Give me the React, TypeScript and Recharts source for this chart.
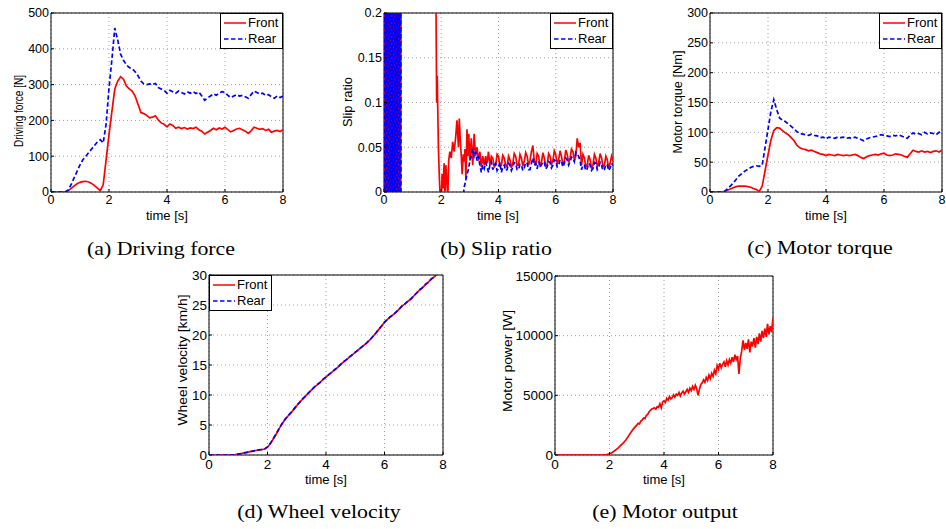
import { LineChart, Line, XAxis, YAxis, CartesianGrid, ReferenceArea } from 'recharts'

const SANS = '"Liberation Sans", Arial, Helvetica, sans-serif'
const SERIF = '"Liberation Serif", "Times New Roman", serif'
const RED = '#ff0000'
const BLUE = '#0000ff'

const X_TICKS = [0, 2, 4, 6, 8]

// sample times [s], 0.1 s steps
const TIME = [
  0, 0.1, 0.2, 0.3, 0.4, 0.5, 0.6, 0.7, 0.8, 0.9,
  1, 1.1, 1.2, 1.3, 1.4, 1.5, 1.6, 1.7, 1.8, 1.9,
  2, 2.1, 2.2, 2.3, 2.4, 2.5, 2.6, 2.7, 2.8, 2.9,
  3, 3.1, 3.2, 3.3, 3.4, 3.5, 3.6, 3.7, 3.8, 3.9,
  4, 4.1, 4.2, 4.3, 4.4, 4.5, 4.6, 4.7, 4.8, 4.9,
  5, 5.1, 5.2, 5.3, 5.4, 5.5, 5.6, 5.7, 5.8, 5.9,
  6, 6.1, 6.2, 6.3, 6.4, 6.5, 6.6, 6.7, 6.8, 6.9,
  7, 7.1, 7.2, 7.3, 7.4, 7.5, 7.6, 7.7, 7.8, 7.9,
  8,
]

// (a) driving force [N]
const FORCE_FRONT = [
  0, 0, 0, 0, 0, 1, 4, 10, 17, 23,
  27, 29, 30, 28, 24, 18, 11, 4, 20, 90,
  160, 225, 288, 310, 322, 315, 296, 288, 282, 268,
  245, 222, 219, 214, 207, 209, 213, 201, 193, 189,
  182, 190, 186, 178, 181, 177, 180, 176, 179, 177,
  181, 174, 170, 162, 167, 172, 178, 174, 179, 176,
  181, 174, 168, 172, 176, 178, 174, 170, 164, 171,
  181, 178, 175, 177, 172, 175, 167, 170, 172, 169,
  174,
]
const FORCE_REAR = [
  0, 0, 0, 0, 0, 0, 6, 22, 40, 58,
  76, 90, 100, 110, 120, 130, 140, 146, 137, 190,
  290, 370, 458, 425, 385, 368, 355, 348, 344, 336,
  325, 310, 302, 300, 302, 300, 303, 292, 288, 284,
  276, 284, 280, 276, 282, 278, 274, 280, 276, 280,
  275, 279, 268, 256, 263, 268, 274, 270, 277, 280,
  278, 270, 264, 268, 272, 268, 270, 266, 262, 272,
  282, 278, 274, 276, 270, 272, 266, 262, 268, 264,
  268,
]

// (b) slip ratio, [time, value]
const SLIP_FRONT: [number, number][] = [
  [0, 0.4], [0.025, -0.2], [0.05, 0.4], [0.075, -0.2], [0.1, 0.4], [0.125, -0.2], [0.15, 0.4],
  [0.175, -0.2], [0.2, 0.4], [0.225, -0.2], [0.25, 0.4], [0.275, -0.2], [0.3, 0.4], [0.325, -0.2],
  [0.35, 0.4], [0.375, -0.2], [0.4, 0.4], [0.425, -0.2], [0.45, 0.4], [0.475, -0.2], [0.5, 0.4],
  [0.525, -0.2], [0.55, 0.4], [0.575, -0.2], [0.6, 0.4],
  [1.0, 0.4], [1.5, 0.4], [1.8, 0.4], [1.82, 0.19], [1.84, 0.1], [1.86, 0.13], [1.88, 0.09],
  [1.9, 0.05], [1.93, 0.02], [1.96, -0.005], [2.0, -0.01], [2.03, 0.02], [2.06, 0.004],
  [2.1, 0.032], [2.13, -0.005], [2.16, 0.03], [2.2, 0.01], [2.23, -0.005], [2.26, 0.035],
  [2.3, 0.045], [2.35, 0.038], [2.4, 0.056], [2.45, 0.045], [2.5, 0.06], [2.55, 0.08],
  [2.6, 0.05], [2.63, 0.082], [2.67, 0.055], [2.7, 0.04], [2.73, 0.02], [2.77, 0.042],
  [2.8, 0.034], [2.83, 0.048], [2.86, 0.015], [2.9, 0.07], [2.93, 0.04], [2.96, 0.065],
  [3.0, 0.035], [3.05, 0.06], [3.1, 0.03], [3.15, 0.065], [3.2, 0.04], [3.25, 0.05],
  [3.3, 0.035], [3.35, 0.045], [3.4, 0.028], [3.45, 0.04], [3.5, 0.03], [3.55, 0.04],
  [3.6, 0.032], [3.65, 0.045], [3.7, 0.03], [3.75, 0.04], [3.8, 0.038], [3.85, 0.028],
  [3.9, 0.03], [3.95, 0.042], [4.0, 0.04], [4.05, 0.029], [4.1, 0.03], [4.15, 0.041],
  [4.2, 0.038], [4.25, 0.03], [4.3, 0.028], [4.35, 0.04], [4.4, 0.036], [4.45, 0.027],
  [4.5, 0.032], [4.55, 0.043], [4.6, 0.04], [4.65, 0.03], [4.7, 0.03], [4.75, 0.042],
  [4.8, 0.038], [4.85, 0.029], [4.9, 0.034], [4.95, 0.044], [5.0, 0.04], [5.05, 0.03],
  [5.1, 0.035], [5.15, 0.045], [5.2, 0.052], [5.25, 0.035], [5.3, 0.03], [5.35, 0.043],
  [5.4, 0.04], [5.45, 0.03], [5.5, 0.033], [5.55, 0.044], [5.6, 0.038], [5.65, 0.029],
  [5.7, 0.03], [5.75, 0.043], [5.8, 0.04], [5.85, 0.031], [5.9, 0.035], [5.95, 0.046],
  [6.0, 0.042], [6.05, 0.032], [6.1, 0.036], [6.15, 0.046], [6.2, 0.04], [6.25, 0.031],
  [6.3, 0.034], [6.35, 0.047], [6.4, 0.042], [6.45, 0.033], [6.5, 0.038], [6.55, 0.048],
  [6.6, 0.045], [6.65, 0.036], [6.7, 0.04], [6.75, 0.06], [6.8, 0.05], [6.85, 0.055],
  [6.9, 0.03], [6.95, 0.042], [7.0, 0.038], [7.05, 0.028], [7.1, 0.03], [7.15, 0.041],
  [7.2, 0.036], [7.25, 0.027], [7.3, 0.03], [7.35, 0.042], [7.4, 0.038], [7.45, 0.029],
  [7.5, 0.033], [7.55, 0.043], [7.6, 0.038], [7.65, 0.028], [7.7, 0.03], [7.75, 0.04],
  [7.8, 0.036], [7.85, 0.027], [7.9, 0.032], [7.95, 0.04], [8.0, 0.035],
]
const SLIP_REAR: [number, number][] = [
  [0, -0.2], [0.025, 0.4], [0.05, -0.2], [0.075, 0.4], [0.1, -0.2], [0.125, 0.4], [0.15, -0.2],
  [0.175, 0.4], [0.2, -0.2], [0.225, 0.4], [0.25, -0.2], [0.275, 0.4], [0.3, -0.2], [0.325, 0.4],
  [0.35, -0.2], [0.375, 0.4], [0.4, -0.2], [0.425, 0.4], [0.45, -0.2], [0.475, 0.4], [0.5, -0.2],
  [0.525, 0.4], [0.55, -0.2], [0.575, 0.4], [0.6, -0.2],
  [1.0, -0.2], [2.0, -0.2], [2.7, -0.2], [2.77, -0.005], [2.8, 0.005], [2.85, 0.012],
  [2.9, 0.02], [2.95, 0.025], [3.0, 0.035], [3.05, 0.04], [3.1, 0.048], [3.15, 0.04],
  [3.2, 0.045], [3.25, 0.035], [3.3, 0.04], [3.35, 0.03], [3.4, 0.022], [3.45, 0.03],
  [3.5, 0.026], [3.55, 0.033], [3.6, 0.028], [3.65, 0.022], [3.7, 0.03], [3.75, 0.034],
  [3.8, 0.025], [3.85, 0.03], [3.9, 0.032], [3.95, 0.024], [4.0, 0.028], [4.05, 0.033],
  [4.1, 0.022], [4.15, 0.028], [4.2, 0.03], [4.25, 0.024], [4.3, 0.025], [4.35, 0.032],
  [4.4, 0.03], [4.45, 0.024], [4.5, 0.028], [4.55, 0.033], [4.6, 0.032], [4.65, 0.025],
  [4.7, 0.025], [4.75, 0.031], [4.8, 0.03], [4.85, 0.024], [4.9, 0.027], [4.95, 0.033],
  [5.0, 0.032], [5.05, 0.025], [5.1, 0.025], [5.15, 0.032], [5.2, 0.038], [5.25, 0.03],
  [5.3, 0.032], [5.35, 0.026], [5.4, 0.034], [5.45, 0.028], [5.5, 0.03], [5.55, 0.034],
  [5.6, 0.033], [5.65, 0.026], [5.7, 0.028], [5.75, 0.034], [5.8, 0.033], [5.85, 0.027],
  [5.9, 0.03], [5.95, 0.036], [6.0, 0.035], [6.05, 0.028], [6.1, 0.03], [6.15, 0.036],
  [6.2, 0.034], [6.25, 0.028], [6.3, 0.032], [6.35, 0.038], [6.4, 0.036], [6.45, 0.03],
  [6.5, 0.034], [6.55, 0.039], [6.6, 0.038], [6.65, 0.034], [6.7, 0.044], [6.75, 0.042],
  [6.8, 0.04], [6.85, 0.035], [6.9, 0.025], [6.95, 0.03], [7.0, 0.03], [7.05, 0.024],
  [7.1, 0.026], [7.15, 0.032], [7.2, 0.03], [7.25, 0.024], [7.3, 0.026], [7.35, 0.033],
  [7.4, 0.032], [7.45, 0.025], [7.5, 0.028], [7.55, 0.033], [7.6, 0.03], [7.65, 0.024],
  [7.7, 0.025], [7.75, 0.031], [7.8, 0.03], [7.85, 0.024], [7.9, 0.027], [7.95, 0.032],
  [8.0, 0.03],
]

// (c) motor torque [Nm]
const TORQUE_FRONT = [
  0, 0, 0, 0, 0, 1, 3, 5, 7, 9,
  10, 10, 10, 9, 8, 6, 4, 1, 10, 36,
  62, 87, 103, 108, 107, 103, 99, 96, 91, 86,
  78, 74, 72, 71, 69, 70, 68, 66, 64, 63,
  61, 63, 62, 61, 63, 62, 61, 62, 61, 62,
  63, 61, 58, 56, 59, 61, 62, 63, 62, 64,
  65, 62, 61, 62, 64, 63, 62, 60, 58, 64,
  70, 68, 67, 69, 67, 68, 66, 68, 69, 67,
  70,
]
const TORQUE_REAR = [
  0, 0, 0, 0, 0, 1, 5, 10, 15, 21,
  27, 31, 35, 38, 41, 43, 44, 43, 45, 75,
  105, 135, 155, 138, 124, 120, 118, 114, 110, 106,
  101, 98, 97, 96, 95, 97, 95, 94, 91, 92,
  89, 92, 91, 90, 92, 91, 92, 90, 91, 90,
  92, 90, 88, 86, 89, 91, 92, 93, 94, 96,
  95, 94, 93, 95, 94, 96, 94, 92, 90, 95,
  99, 97, 98, 96, 100, 97, 99, 98, 96, 100,
  101,
]

// (d) wheel velocity [km/h]
const VEL_FRONT = [
  0, 0, 0, 0, 0, 0, 0, 0, 0, 0.05,
  0.15, 0.25, 0.35, 0.45, 0.55, 0.65, 0.75, 0.85, 0.9, 1.0,
  1.3, 1.9, 2.7, 3.5, 4.4, 5.2, 5.9, 6.5, 7.0, 7.6,
  8.2, 8.8, 9.3, 9.8, 10.3, 10.8, 11.3, 11.7, 12.1, 12.6,
  13.0, 13.4, 13.8, 14.2, 14.6, 15.1, 15.5, 15.9, 16.3, 16.7,
  17.1, 17.5, 17.9, 18.3, 18.7, 19.2, 19.7, 20.3, 20.9, 21.5,
  22.1, 22.6, 23.0, 23.4, 23.8, 24.3, 24.8, 25.2, 25.6, 26.0,
  26.5, 27.0, 27.5, 27.9, 28.4, 28.8, 29.3, 29.7, 30.2, 30.6,
  31.0,
]
const VEL_REAR = [
  0, 0, 0, 0, 0, 0, 0, 0, 0, 0.04,
  0.14, 0.24, 0.36, 0.44, 0.56, 0.64, 0.76, 0.84, 0.92, 1.0,
  1.35, 1.95, 2.75, 3.55, 4.45, 5.25, 5.95, 6.55, 7.05, 7.65,
  8.25, 8.8, 9.35, 9.8, 10.35, 10.8, 11.3, 11.75, 12.1, 12.6,
  13.0, 13.45, 13.8, 14.25, 14.6, 15.1, 15.55, 15.9, 16.35, 16.7,
  17.15, 17.5, 17.95, 18.3, 18.75, 19.2, 19.75, 20.3, 20.95, 21.5,
  22.15, 22.6, 23.05, 23.4, 23.85, 24.3, 24.85, 25.2, 25.65, 26.0,
  26.55, 27.0, 27.55, 27.9, 28.45, 28.8, 29.35, 29.7, 30.25, 30.6,
  31.05,
]

// (e) motor power [W], [time, value]
const POWER: [number, number][] = [
  [0, 0], [0.5, 0], [1.0, 0], [1.5, 0], [1.8, 10], [1.9, 30], [2.0, 90], [2.1, 200],
  [2.2, 380], [2.3, 560], [2.4, 780], [2.5, 1000], [2.6, 1250], [2.7, 1600], [2.8, 1950],
  [2.9, 2250], [3.0, 2500], [3.05, 2650], [3.1, 2600], [3.15, 2850], [3.2, 2950],
  [3.25, 3100], [3.3, 3050], [3.35, 3300], [3.4, 3400], [3.45, 3600], [3.5, 3750],
  [3.55, 3850], [3.6, 3900], [3.65, 3950], [3.7, 3850], [3.75, 4050], [3.8, 4000],
  [3.85, 4300], [3.9, 3950], [3.95, 4450], [4.0, 4550], [4.05, 4400], [4.1, 4750],
  [4.15, 4600], [4.2, 4900], [4.25, 4700], [4.3, 4800], [4.35, 5050], [4.4, 4850],
  [4.45, 5100], [4.5, 5000], [4.55, 5250], [4.6, 4950], [4.65, 5200], [4.7, 5350],
  [4.75, 5100], [4.8, 5300], [4.85, 5500], [4.9, 5250], [4.95, 5600], [5.0, 5400],
  [5.05, 5750], [5.1, 5500], [5.15, 5850], [5.2, 5550], [5.25, 5000], [5.3, 5500],
  [5.35, 5900], [5.4, 6050], [5.45, 6300], [5.5, 6100], [5.55, 6500], [5.6, 6250],
  [5.65, 6700], [5.7, 6400], [5.75, 6850], [5.8, 6600], [5.85, 7100], [5.9, 6800],
  [5.95, 7500], [6.0, 7200], [6.05, 7700], [6.1, 7300], [6.15, 7600], [6.2, 7800],
  [6.25, 7400], [6.3, 7900], [6.35, 7550], [6.4, 8000], [6.45, 7700], [6.5, 8200],
  [6.55, 7800], [6.6, 8400], [6.65, 8000], [6.7, 8300], [6.75, 6800], [6.8, 8100],
  [6.85, 8700], [6.9, 9600], [6.95, 8800], [7.0, 9400], [7.05, 8900], [7.1, 9700],
  [7.15, 8600], [7.2, 9500], [7.25, 9100], [7.3, 9800], [7.35, 9000], [7.4, 9900],
  [7.45, 9300], [7.5, 10200], [7.55, 9500], [7.6, 10400], [7.65, 9800], [7.7, 10600],
  [7.75, 9900], [7.8, 11000], [7.85, 10100], [7.9, 10800], [7.95, 10300], [8.0, 11500],
]

type Pt = { t: number; v: number }
const zip = (t: number[], v: number[]): Pt[] => t.map((x, i) => ({ t: x, v: v[i] }))
const pairs = (p: [number, number][]): Pt[] => p.map(([t, v]) => ({ t, v }))

type Series = { name: string; data: Pt[]; color: string; dashed?: boolean }
type PanelSpec = {
  box: [number, number, number, number] // plot left, top, right, bottom (page px)
  yDomain: [number, number]
  yTicks: number[]
  yLabel: string
  yLabelAt: [number, number, number] // centre x, centre y, text length
  xLabelAt: [number, number]
  tickFont: number
  xTickGap: number
  series: Series[]
  legend?: 'left' | 'right'
}

const PAD_L = 60
const PAD_T = 15
const PAD_R = 4
const PAD_B = 40
const DASH = '4.5 2.5'

function Legend({ series, left, top }: { series: Series[]; left: number; top: number }) {
  return (
    <div
      style={{
        position: 'absolute', left, top, width: 61, height: 33, border: '1px solid #000',
        background: '#fff', fontSize: 13, fontFamily: SANS, paddingTop: 1,
      }}
    >
      {series.map((s) => (
        <div key={s.name} style={{ display: 'flex', alignItems: 'center', height: 16 }}>
          <svg width={27} height={8} style={{ flex: 'none' }}>
            <line x1={3} x2={25} y1={4} y2={4} stroke={s.color} strokeWidth={1.5}
              strokeDasharray={s.dashed ? DASH : undefined} />
          </svg>
          <span style={{ lineHeight: '16px' }}>{s.name}</span>
        </div>
      ))}
    </div>
  )
}

function Panel({ spec }: { spec: PanelSpec }) {
  const [L, T, R, B] = spec.box
  const ox = L - PAD_L
  const oy = T - PAD_T
  const w = PAD_L + (R - L) + PAD_R
  const h = PAD_T + (B - T) + PAD_B
  const [ycx, ycy, ylen] = spec.yLabelAt
  const [xcx, xcy] = spec.xLabelAt
  const lx = ycx - ox
  const ly = ycy - oy
  return (
    <div style={{ position: 'absolute', left: ox, top: oy, width: w, height: h, fontFamily: SANS }}>
      <LineChart width={w} height={h} margin={{ top: PAD_T, right: PAD_R, bottom: 0, left: 0 }}>
        <CartesianGrid stroke="#a0a0a0" strokeDasharray="1 3" />
        <XAxis
          type="number" dataKey="t" domain={[0, 8]} ticks={X_TICKS} allowDataOverflow
          height={PAD_B} axisLine={false} tickSize={-3} tickMargin={spec.xTickGap}
          tickLine={{ stroke: '#000' }}
          tick={{ fill: '#000', fontSize: spec.tickFont }}
          label={() => (
            <text x={xcx - ox} y={xcy - oy} textAnchor="middle" dominantBaseline="central"
              fontSize={13} fill="#000" textLength={42} lengthAdjust="spacingAndGlyphs">
              time [s]
            </text>
          )}
        />
        <YAxis
          type="number" domain={spec.yDomain} ticks={spec.yTicks} allowDataOverflow
          width={PAD_L} axisLine={false} tickSize={-3} tickMargin={5}
          tickLine={{ stroke: '#000' }}
          tick={{ fill: '#000', fontSize: spec.tickFont }}
          label={() => (
            <text x={lx} y={ly} textAnchor="middle" dominantBaseline="central"
              transform={`rotate(-90 ${lx} ${ly})`} fontSize={13} fill="#000"
              textLength={ylen} lengthAdjust="spacingAndGlyphs">
              {spec.yLabel}
            </text>
          )}
        />
        <ReferenceArea x1={0} x2={8} y1={spec.yDomain[0]} y2={spec.yDomain[1]}
          fill="none" stroke="#000" strokeWidth={1} ifOverflow="visible" />
        {spec.series.map((s) => (
          <Line
            key={s.name} data={s.data} dataKey="v" name={s.name} type="linear" dot={false}
            stroke={s.color} strokeWidth={1.7} strokeDasharray={s.dashed ? DASH : undefined}
            isAnimationActive={false}
          />
        ))}
      </LineChart>
      {spec.legend && (
        <Legend
          series={spec.series}
          left={spec.legend === 'right' ? R - 63 - ox : L - ox}
          top={T - oy}
        />
      )}
    </div>
  )
}

const PANELS: PanelSpec[] = [
  {
    box: [51, 13, 283, 192], yDomain: [0, 500], yTicks: [0, 100, 200, 300, 400, 500],
    yLabel: 'Driving force [N]', yLabelAt: [18, 111, 72], xLabelAt: [167, 215],
    tickFont: 12.5, xTickGap: 6, legend: 'right',
    series: [
      { name: 'Front', data: zip(TIME, FORCE_FRONT), color: RED },
      { name: 'Rear', data: zip(TIME, FORCE_REAR), color: BLUE, dashed: true },
    ],
  },
  {
    box: [384, 13, 613, 192], yDomain: [0, 0.2], yTicks: [0, 0.05, 0.1, 0.15, 0.2],
    yLabel: 'Slip ratio', yLabelAt: [347, 102, 50], xLabelAt: [498, 215],
    tickFont: 12.5, xTickGap: 6, legend: 'right',
    series: [
      { name: 'Front', data: pairs(SLIP_FRONT), color: RED },
      { name: 'Rear', data: pairs(SLIP_REAR), color: BLUE, dashed: true },
    ],
  },
  {
    box: [710, 13, 942, 192], yDomain: [0, 300], yTicks: [0, 50, 100, 150, 200, 250, 300],
    yLabel: 'Motor torque [Nm]', yLabelAt: [677, 102, 103], xLabelAt: [826, 215],
    tickFont: 12.5, xTickGap: 6, legend: 'right',
    series: [
      { name: 'Front', data: zip(TIME, TORQUE_FRONT), color: RED },
      { name: 'Rear', data: zip(TIME, TORQUE_REAR), color: BLUE, dashed: true },
    ],
  },
  {
    box: [209, 275, 443, 455], yDomain: [0, 30], yTicks: [0, 5, 10, 15, 20, 25, 30],
    yLabel: 'Wheel velocity [km/h]', yLabelAt: [182, 360, 131], xLabelAt: [326, 479],
    tickFont: 13.5, xTickGap: 7, legend: 'left',
    series: [
      { name: 'Front', data: zip(TIME, VEL_FRONT), color: RED },
      { name: 'Rear', data: zip(TIME, VEL_REAR), color: BLUE, dashed: true },
    ],
  },
  {
    box: [555, 276, 773, 455], yDomain: [0, 15000], yTicks: [0, 5000, 10000, 15000],
    yLabel: 'Motor power [W]', yLabelAt: [507, 361, 102], xLabelAt: [664, 479],
    tickFont: 13.5, xTickGap: 7,
    series: [{ name: 'Power', data: pairs(POWER), color: RED }],
  },
]

const CAPTIONS: { text: string; x: number; y: number }[] = [
  { text: '(a) Driving force', x: 161, y: 249 },
  { text: '(b) Slip ratio', x: 496, y: 249 },
  { text: '(c) Motor torque', x: 820, y: 248 },
  { text: '(d) Wheel velocity', x: 319, y: 512 },
  { text: '(e) Motor output', x: 665, y: 512 },
]

export default function App() {
  return (
    <div style={{ position: 'absolute', left: 0, top: 0, width: 946, height: 529, background: '#fff', overflow: 'hidden' }}>
      {PANELS.map((p, i) => <Panel key={i} spec={p} />)}
      {CAPTIONS.map((c) => (
        <div
          key={c.text}
          style={{
            position: 'absolute', left: c.x - 150, top: c.y - 12, width: 300, height: 24,
            textAlign: 'center', fontFamily: SERIF, fontSize: 19, lineHeight: '24px',
            transform: 'scaleX(1.15)', color: '#000', whiteSpace: 'nowrap',
          }}
        >
          {c.text}
        </div>
      ))}
    </div>
  )
}
